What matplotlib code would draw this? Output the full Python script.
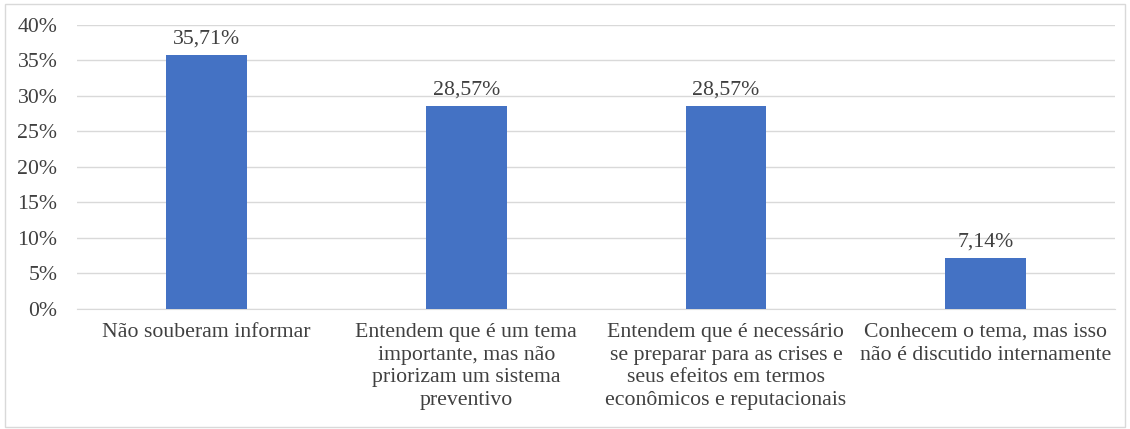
import matplotlib.pyplot as plt
from matplotlib.patches import Rectangle

categories = ["Não souberam informar",
              "Entendem que é um tema\nimportante, mas não\npriorizam um sistema\npreventivo",
              "Entendem que é necessário\nse preparar para as crises e\nseus efeitos em termos\neconômicos e reputacionais",
              "Conhecem o tema, mas isso\nnão é discutido internamente"]
values = [35.71, 28.57, 28.57, 7.14]
labels = ["35,71%", "28,57%", "28,57%", "7,14%"]
yticks = [0, 5, 10, 15, 20, 25, 30, 35, 40]

plt.rcParams['font.family'] = ['Liberation Serif', 'DejaVu Serif']
txt = '#404040'
fs = 15.7

fig = plt.figure(figsize=(11.3, 4.29), dpi=100)
ax = fig.add_axes([0.068, 0.280, 0.919, 0.662])

x = range(len(values))
ax.bar(x, values, width=0.31, color='#4472C4', zorder=3)
for i, v in enumerate(values):
    ax.text(i, v + 0.9, labels[i], ha='center', va='bottom', fontsize=fs, color=txt)

ax.set_xlim(-0.5, 3.5)
ax.set_ylim(0, 40)
ax.set_yticks(yticks)
ax.set_yticklabels([f"{t}%" for t in yticks], fontsize=fs, color=txt)
ax.set_xticks(list(x))
ax.set_xticklabels(categories, fontsize=fs, color=txt, linespacing=1.27, va='top')
ax.tick_params(axis='y', length=0, pad=14)
ax.tick_params(axis='x', length=0, pad=10)
ax.grid(axis='y', color='#d9d9d9', linewidth=1, zorder=0)
for s in ['top', 'right', 'left']:
    ax.spines[s].set_visible(False)
ax.spines['bottom'].set_color('#d9d9d9')

fig.patches.append(Rectangle((0.004, 0.005), 0.992, 0.985, transform=fig.transFigure,
                             fill=False, edgecolor='#d9d9d9', linewidth=1))

fig.savefig('out.png', dpi=100)
